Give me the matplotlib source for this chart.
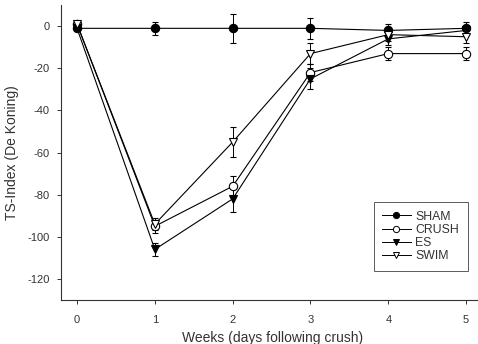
import matplotlib
matplotlib.use("Agg")
import matplotlib.pyplot as plt
from matplotlib.lines import Line2D

weeks = [0, 1, 2, 3, 4, 5]
sham = [-1, -1, -1, -1, -2, -1]
sham_err = [1, 3, 7, 5, 3, 3]
crush = [1, -95, -76, -22, -13, -13]
crush_err = [1, 3, 5, 4, 3, 3]
es = [-1, -106, -82, -25, -6, -2]
es_err = [1, 3, 6, 5, 3, 2]
swim = [1, -94, -55, -13, -4, -5]
swim_err = [1, 3, 7, 5, 3, 3]

xticks = [0, 1, 2, 3, 4, 5]
yticks = [0, -20, -40, -60, -80, -100, -120]

plt.rcParams['font.family'] = ['Liberation Sans', 'DejaVu Sans']
plt.rcParams['axes.unicode_minus'] = False
fig = plt.figure(figsize=(4.78, 3.44), dpi=100)
ax = fig.add_axes([0.1276, 0.128, 0.872, 0.857])
tc = '#333333'

series = [
    ("SHAM", sham, sham_err, 'o', 'black'),
    ("CRUSH", crush, crush_err, 'o', 'white'),
    ("ES", es, es_err, 'v', 'black'),
    ("SWIM", swim, swim_err, 'v', 'white'),
]
handles = []
for name, vals, err, m, fc in series:
    ax.errorbar(weeks, vals, yerr=err, marker=m, markersize=6, mfc=fc, mec='black',
                mew=0.8, color='black', lw=0.8, ecolor='black', elinewidth=0.7,
                capsize=2.5, capthick=0.7)
    handles.append(Line2D([], [], marker=m, markersize=4.5, mfc=fc, mec='black',
                          mew=0.7, color='black', lw=0.7, label=name))

ax.set_xlim(-0.206, 5.15)
ax.set_ylim(-130, 10)
ax.set_xticks(xticks)
ax.set_yticks(yticks)
ax.spines['top'].set_visible(False)
ax.spines['right'].set_visible(False)
for s in ['left', 'bottom']:
    ax.spines[s].set_linewidth(0.8)
    ax.spines[s].set_color('#333333')
ax.tick_params(axis='both', labelsize=8, colors=tc, length=3, width=0.7)
ax.tick_params(axis='x', pad=8)
ax.tick_params(axis='y', pad=5)
ax.set_xlabel("Weeks (days following crush)", fontsize=10, color=tc, va='center')
ax.xaxis.set_label_coords(0.507, -0.129)
ax.set_ylabel("TS-Index (De Koning)", fontsize=10, color=tc, labelpad=6)

leg = ax.legend(handles=handles, loc='upper left', bbox_to_anchor=(0.7506, 0.332),
                fontsize=8.8, frameon=True, fancybox=False, edgecolor='#333333',
                handlelength=2.3, handletextpad=0.4, labelspacing=0.1,
                borderpad=0.7, borderaxespad=0)
leg.get_frame().set_linewidth(0.7)
for t in leg.get_texts():
    t.set_color(tc)

fig.savefig("out.png", dpi=100)
